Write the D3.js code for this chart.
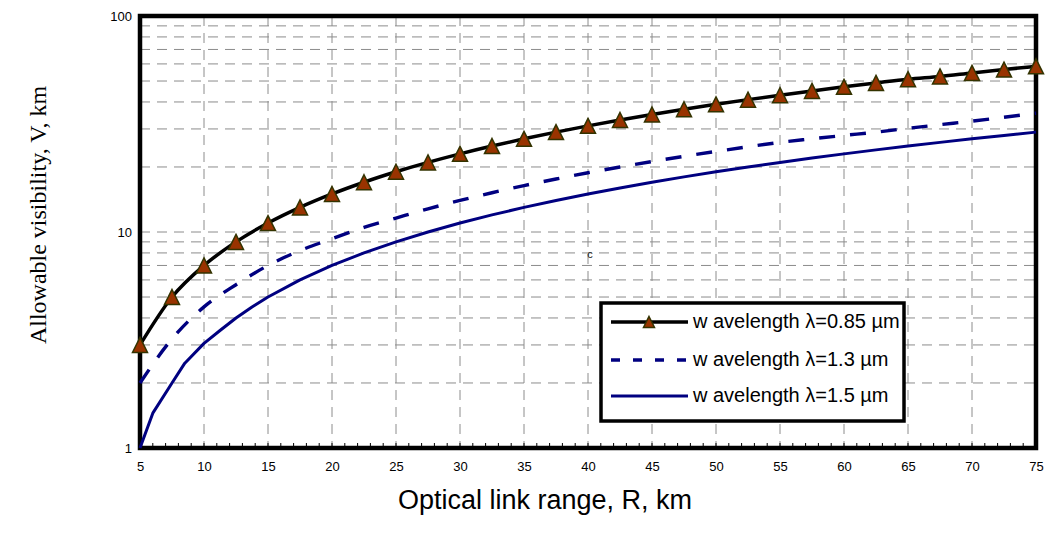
<!DOCTYPE html>
<html>
<head>
<meta charset="utf-8">
<script src="https://cdn.jsdelivr.net/npm/d3@7"></script>
<style>
  html, body { margin: 0; padding: 0; background: #fff; }
  svg { display: block; }
</style>
</head>
<body>
<svg id="chart" width="1049" height="542"></svg>
<script>
// ---------------- data ----------------
const xTicks = [5, 10, 15, 20, 25, 30, 35, 40, 45, 50, 55, 60, 65, 70, 75];
const yTicks = [1, 10, 100];
const yGridValues = [2, 3, 4, 5, 6, 7, 8, 9, 10, 20, 30, 40, 50, 60, 70, 80, 90];

// wavelength 0.85 µm
const r085 = [5, 7.5, 10, 12.5, 15, 17.5, 20, 22.5, 25, 27.5, 30, 32.5, 35, 37.5, 40, 42.5, 45, 47.5, 50, 52.5, 55, 57.5, 60, 62.5, 65, 67.5, 70, 72.5, 75];
const v085 = [3, 5, 7, 9, 11, 13, 15, 17, 19, 21, 23, 25, 27, 29, 31, 33, 35, 37, 39, 41, 43, 45, 47, 49, 51, 52.5, 54.5, 56.5, 58.5];
// wavelength 1.3 µm
const r13 = [5, 7.5, 10, 12.5, 15, 17.5, 20, 22.5, 25, 27.5, 30, 32.5, 35, 37.5, 40, 42.5, 45, 47.5, 50, 52.5, 55, 57.5, 60, 62.5, 65, 67.5, 70, 72.5, 75];
const v13 = [2, 3.2, 4.5, 5.7, 7, 8.2, 9.3, 10.5, 11.6, 12.8, 14, 15.2, 16.4, 17.6, 18.8, 20, 21.2, 22.4, 23.6, 24.8, 26, 27, 28, 29, 30.2, 31.4, 32.6, 34, 35.5];
// wavelength 1.5 µm
const r15 = [5, 6, 7.5, 8.5, 10, 11.25, 12.5, 13.75, 15, 17.5, 20, 22.5, 25, 27.5, 30, 32.5, 35, 37.5, 40, 42.5, 45, 47.5, 50, 52.5, 55, 57.5, 60, 62.5, 65, 67.5, 70, 72.5, 75];
const v15 = [1, 1.45, 2, 2.47, 3.05, 3.5, 4, 4.5, 5, 6, 7, 8, 9, 10, 11, 12, 13, 14, 15, 16, 17, 18, 19, 20, 21, 22, 23, 24, 25, 26, 27, 28, 29];

const seriesNames = ["w avelength \u03bb=0.85 \u00b5m", "w avelength \u03bb=1.3 \u00b5m", "w avelength \u03bb=1.5 \u00b5m"];
const xTitle = "Optical link range, R, km";
const yTitle = "Allowable visibility, V, km";

// ---------------- layout ----------------
const svg = d3.select("#chart");
const X0 = 140, X1 = 1036, Y0 = 16, Y1 = 448;
const x = d3.scaleLinear().domain([5, 75]).range([X0, X1]);
const y = d3.scaleLog().domain([1, 100]).range([Y1, Y0]);

const gridColor = "#8c8c8c";
const navy = "#000080";

// grid
svg.append("g").selectAll("line").data(yGridValues).join("line")
  .attr("x1", X0).attr("x2", X1)
  .attr("y1", d => y(d)).attr("y2", d => y(d))
  .attr("stroke", gridColor).attr("stroke-width", 1)
  .attr("stroke-dasharray", "10,7");
svg.append("g").selectAll("line").data(xTicks.slice(1, -1)).join("line")
  .attr("x1", d => x(d)).attr("x2", d => x(d))
  .attr("y1", Y0).attr("y2", Y1)
  .attr("stroke", gridColor).attr("stroke-width", 1)
  .attr("stroke-dasharray", "10,7");

// minor ticks on bottom axis
svg.append("g").selectAll("line").data(d3.range(5, 76, 1)).join("line")
  .attr("x1", d => x(d)).attr("x2", d => x(d))
  .attr("y1", Y1 - 5).attr("y2", Y1)
  .attr("stroke", "#000").attr("stroke-width", 1);

// frame
svg.append("rect")
  .attr("x", X0).attr("y", Y0).attr("width", X1 - X0).attr("height", Y1 - Y0)
  .attr("fill", "none").attr("stroke", "#000").attr("stroke-width", 4.5);

// axes labels
const xAxis = svg.append("g").attr("transform", `translate(0,${Y1})`)
  .call(d3.axisBottom(x).tickValues(xTicks).tickSize(0).tickPadding(14).tickFormat(d3.format("d")));
xAxis.select(".domain").remove();
xAxis.selectAll("text").attr("font-family", "Liberation Sans, Arial, sans-serif").attr("font-size", 13).attr("fill", "#000");

const yAxis = svg.append("g").attr("transform", `translate(${X0},0)`)
  .call(d3.axisLeft(y).tickValues(yTicks).tickSize(0).tickPadding(8).tickFormat(d3.format("d")));
yAxis.select(".domain").remove();
yAxis.selectAll("text").attr("font-family", "Liberation Sans, Arial, sans-serif").attr("font-size", 13).attr("fill", "#000");

// series
const line = d3.line().x(d => x(d[0])).y(d => y(d[1]));
const smooth = d3.line().x(d => x(d[0])).y(d => y(d[1])).curve(d3.curveMonotoneX);
const d085 = r085.map((r, i) => [r, v085[i]]);
const d13 = r13.map((r, i) => [r, v13[i]]);
const d15 = r15.map((r, i) => [r, v15[i]]);

svg.append("path").datum(d15).attr("d", line)
  .attr("fill", "none").attr("stroke", navy).attr("stroke-width", 3).attr("stroke-linejoin", "round");
svg.append("path").datum(d13).attr("d", smooth)
  .attr("fill", "none").attr("stroke", navy).attr("stroke-width", 3.4)
  .attr("stroke-dasharray", "16,15");
svg.append("path").datum(d085).attr("d", smooth)
  .attr("fill", "none").attr("stroke", "#000").attr("stroke-width", 3.5).attr("stroke-linejoin", "round");

function tri(w) {
  const h = w;
  return `M0,${-h / 2}L${w / 2},${h / 2}L${-w / 2},${h / 2}Z`;
}
svg.append("g").selectAll("path").data(d085).join("path")
  .attr("transform", d => `translate(${x(d[0])},${y(d[1])})`)
  .attr("d", tri(15))
  .attr("fill", "#993300").attr("stroke", "#333300").attr("stroke-width", 1.5);

// stray mark
svg.append("text").attr("x", 590).attr("y", 258).attr("text-anchor", "middle")
  .attr("font-family", "Liberation Sans, Arial, sans-serif").attr("font-size", 11).attr("fill", "#222")
  .text("c");

// legend
const lg = svg.append("g");
lg.append("rect").attr("x", 601).attr("y", 303).attr("width", 303).attr("height", 118)
  .attr("fill", "#fff").attr("stroke", "#000").attr("stroke-width", 3.5);
const rowsY = [322, 360, 396];
const styles = [
  { stroke: "#000", dash: null, w: 3.5, marker: true },
  { stroke: navy, dash: "9,13", w: 3.4, marker: false },
  { stroke: navy, dash: null, w: 3, marker: false }
];
seriesNames.forEach((name, i) => {
  const st = styles[i];
  const ln = lg.append("line").attr("x1", 611).attr("x2", 688).attr("y1", rowsY[i]).attr("y2", rowsY[i])
    .attr("stroke", st.stroke).attr("stroke-width", st.w);
  if (st.dash) ln.attr("stroke-dasharray", st.dash);
  if (st.marker) {
    lg.append("path").attr("transform", `translate(649,${rowsY[i]})`).attr("d", tri(11))
      .attr("fill", "#993300").attr("stroke", "#333300").attr("stroke-width", 1.5);
  }
  lg.append("text").attr("x", 693).attr("y", rowsY[i] + 1).attr("dominant-baseline", "middle")
    .attr("font-family", "Liberation Sans, Arial, sans-serif").attr("font-size", 20).attr("fill", "#000")
    .text(name);
});

// titles
svg.append("text").attr("x", 398).attr("y", 509)
  .attr("font-family", "Liberation Sans, Arial, sans-serif").attr("font-size", 27).attr("fill", "#000")
  .text(xTitle);
svg.append("text").attr("transform", "translate(46,215) rotate(-90)").attr("text-anchor", "middle")
  .attr("font-family", "Liberation Serif, Times New Roman, serif").attr("font-size", 24).attr("fill", "#000")
  .text(yTitle);
</script>
</body>
</html>
